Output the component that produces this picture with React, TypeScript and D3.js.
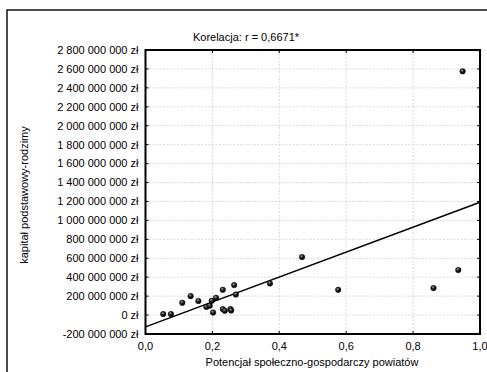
import React, { useEffect, useRef } from "react";
import * as d3 from "d3";

// potencjał społeczno-gospodarczy (x) vs kapitał podstawowy-rodzimy (y, zł)
const potencjal = [
  0.053, 0.076, 0.11, 0.135, 0.158, 0.182, 0.192, 0.198, 0.202, 0.211, 0.231, 0.231,
  0.237, 0.254, 0.256, 0.265, 0.27, 0.372, 0.468, 0.576, 0.861, 0.935, 0.948,
];
const kapital = [
  11e6, 11e6, 130e6, 200e6, 148e6, 85e6, 98e6, 151e6, 27e6, 183e6, 267e6, 63e6,
  45e6, 63e6, 49e6, 317e6, 218e6, 334e6, 613e6, 267e6, 285e6, 476e6, 2575e6,
];
// linia regresji: wartości na końcach osi X
const fitX = [0, 1];
const fitY = [-125e6, 1192e6];

const xTicks = [0, 0.2, 0.4, 0.6, 0.8, 1.0];
const yTicks = d3.range(-200e6, 2800e6 + 1, 200e6);

const title = "Korelacja: r = 0,6671*";
const xTitle = "Potencjał społeczno-gospodarczy powiatów";
const yTitle = "kapitał podstawowy-rodzimy";

const fmtZl = (v: number) => {
  if (v === 0) return "0 zł";
  const s = Math.abs(v).toFixed(0).replace(/\B(?=(\d{3})+(?!\d))/g, " ");
  return (v < 0 ? "-" : "") + s + " zł";
};
const fmtX = (v: number) => v.toFixed(1).replace(".", ",");

const App = () => {
  const ref = useRef<HTMLDivElement>(null);

  useEffect(() => {
    const W = 487;
    const H = 372;
    const plot = { left: 145.5, right: 480, top: 50, bottom: 334 };
    const font = "'Liberation Sans', Arial, sans-serif";

    const svg = d3
      .select(ref.current)
      .html("")
      .append("svg")
      .attr("width", W)
      .attr("height", H)
      .style("position", "absolute")
      .style("left", "0px")
      .style("top", "0px")
      .style("background", "#fff");

    const x = d3.scaleLinear().domain([0, 1]).range([plot.left, plot.right]);
    const y = d3.scaleLinear().domain([-200e6, 2800e6]).range([plot.bottom, plot.top]);

    // outer frame
    svg.append("rect")
      .attr("x", 7)
      .attr("y", 10)
      .attr("width", W)
      .attr("height", H)
      .attr("fill", "none")
      .attr("stroke", "#111")
      .attr("stroke-width", 1.5);

    // grid
    const grid = svg.append("g").attr("stroke", "#cfcfcf").attr("stroke-width", 0.8)
      .attr("stroke-dasharray", "2,1.5");
    grid.selectAll("line.gx")
      .data(xTicks.slice(1, -1))
      .join("line")
      .attr("x1", (d) => x(d)).attr("x2", (d) => x(d))
      .attr("y1", plot.top).attr("y2", plot.bottom);
    grid.selectAll("line.gy")
      .data(yTicks.slice(1, -1))
      .join("line")
      .attr("class", "gy")
      .attr("x1", plot.left).attr("x2", plot.right)
      .attr("y1", (d) => y(d)).attr("y2", (d) => y(d));

    // ticks (inward, all sides)
    const ticks = svg.append("g").attr("stroke", "#000").attr("stroke-width", 1);
    yTicks.forEach((t) => {
      ticks.append("line").attr("x1", plot.left).attr("x2", plot.left + 3)
        .attr("y1", y(t)).attr("y2", y(t));
      ticks.append("line").attr("x1", plot.right).attr("x2", plot.right - 3)
        .attr("y1", y(t)).attr("y2", y(t));
    });
    xTicks.forEach((t) => {
      ticks.append("line").attr("x1", x(t)).attr("x2", x(t))
        .attr("y1", plot.top).attr("y2", plot.top + 3);
      ticks.append("line").attr("x1", x(t)).attr("x2", x(t))
        .attr("y1", plot.bottom).attr("y2", plot.bottom - 3);
    });

    // regression line
    svg.append("line")
      .attr("x1", x(fitX[0])).attr("y1", y(fitY[0]))
      .attr("x2", x(fitX[1])).attr("y2", y(fitY[1]))
      .attr("stroke", "#000")
      .attr("stroke-width", 1.5);

    // points
    const defs = svg.append("defs");
    const grad = defs.append("radialGradient").attr("id", "ball")
      .attr("cx", "40%").attr("cy", "35%").attr("r", "60%");
    grad.append("stop").attr("offset", "0%").attr("stop-color", "#aaa");
    grad.append("stop").attr("offset", "45%").attr("stop-color", "#222");
    grad.append("stop").attr("offset", "100%").attr("stop-color", "#000");

    svg.append("g")
      .selectAll("circle")
      .data(potencjal.map((p, i) => ({ p, k: kapital[i] })))
      .join("circle")
      .attr("cx", (d) => x(d.p))
      .attr("cy", (d) => y(d.k))
      .attr("r", 2.8)
      .attr("fill", "url(#ball)")
      .attr("stroke", "#000")
      .attr("stroke-width", 0.4);

    // plot border
    svg.append("rect")
      .attr("x", plot.left).attr("y", plot.top)
      .attr("width", plot.right - plot.left).attr("height", plot.bottom - plot.top)
      .attr("fill", "none")
      .attr("stroke", "#000")
      .attr("stroke-width", 2);

    // tick labels
    svg.append("g")
      .selectAll("text")
      .data(yTicks)
      .join("text")
      .attr("x", plot.left - 7)
      .attr("y", (d) => y(d))
      .attr("dy", "0.35em")
      .attr("text-anchor", "end")
      .attr("font-family", font)
      .attr("font-size", "11px")
      .attr("fill", "#000")
      .text((d) => fmtZl(d));

    svg.append("g")
      .selectAll("text")
      .data(xTicks)
      .join("text")
      .attr("x", (d) => x(d))
      .attr("y", plot.bottom + 16)
      .attr("text-anchor", "middle")
      .attr("font-family", font)
      .attr("font-size", "11px")
      .attr("fill", "#000")
      .text((d) => fmtX(d));

    svg.append("text")
      .attr("x", 246)
      .attr("y", 41)
      .attr("text-anchor", "middle")
      .attr("font-family", font)
      .attr("font-size", "11px")
      .attr("fill", "#000")
      .text(title);

    svg.append("text")
      .attr("x", 312)
      .attr("y", 366)
      .attr("text-anchor", "middle")
      .attr("font-family", font)
      .attr("font-size", "11px")
      .attr("fill", "#000")
      .text(xTitle);

    svg.append("text")
      .attr("transform", "rotate(-90)")
      .attr("x", -195)
      .attr("y", 28)
      .attr("text-anchor", "middle")
      .attr("font-family", font)
      .attr("font-size", "11px")
      .attr("fill", "#000")
      .text(yTitle);
  }, []);

  return <div ref={ref} />;
};

export default App;
